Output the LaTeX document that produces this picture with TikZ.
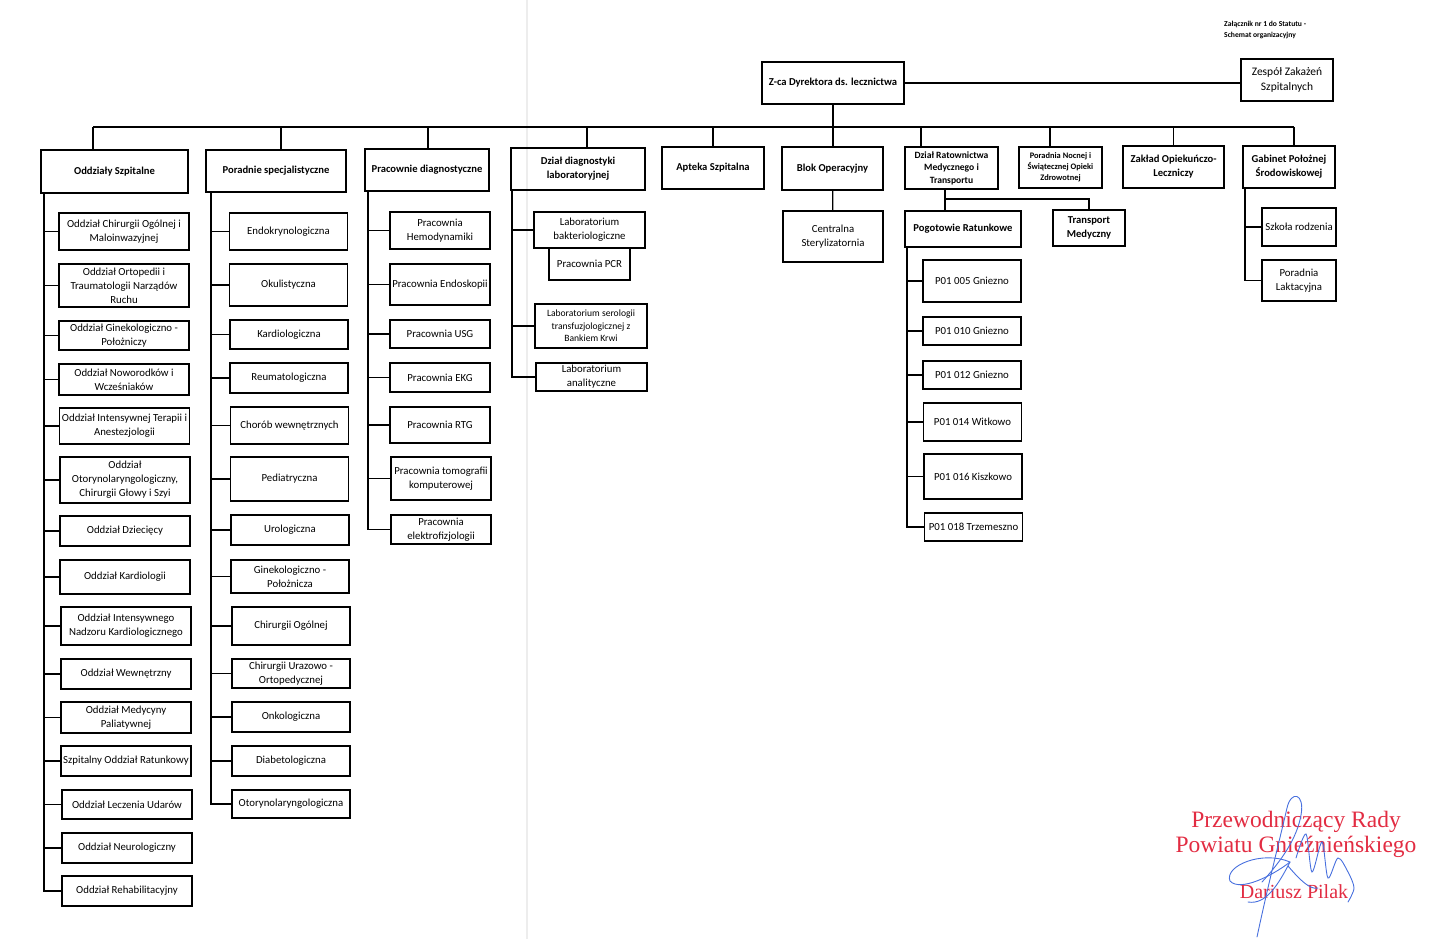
\documentclass[tikz,border=0pt]{standalone}
\usepackage{fontspec}
\setmainfont{Carlito}
\newfontfamily\sigfont{Liberation Serif}
\usepackage{tikz}
\usetikzlibrary{positioning, calc}
\definecolor{sigred}{RGB}{226,44,66}
\definecolor{sigblue}{RGB}{72,112,222}
\tikzset{
  unitbox/.style={
    rectangle, draw=black, line width=1.4pt,
    align=center, inner sep=1pt, outer sep=0pt,
    font=\fontsize{10.8}{14}\selectfont
  },
  headbox/.style={
    unitbox, font=\fontsize{10.6}{14}\selectfont\bfseries
  },
  oddbox/.style={unitbox, minimum width=130},
  porbox/.style={unitbox, minimum width=118},
  prabox/.style={unitbox, minimum width=100},
  labbox/.style={unitbox, minimum width=111},
  zrmbox/.style={unitbox, minimum width=98},
  conn/.style={draw=black, line width=1.3pt},
  sigline/.style={draw=sigblue, line width=0.9pt, line cap=round},
  sigtext/.style={text=sigred, font=\sigfont\fontsize{23.5}{26}\selectfont}
}

\begin{document}
\begin{tikzpicture}[x=1pt, y=-1pt]
\useasboundingbox (0,0) rectangle (1443,939);
\draw[black!7, line width=2pt] (527,0) -- (527,939);

% ── Header ──────────────────────────────────────────────────
\node[anchor=west, align=left, inner sep=0pt,
      font=\fontsize{7.6}{11}\selectfont\bfseries] (att) at (1224,30) {%
  Załącznik nr 1 do Statutu -\\Schemat organizacyjny};

\node[headbox, minimum width=142, minimum height=42] (zca) at (833,83)
  {Z-ca Dyrektora ds. lecznictwa};
\node[unitbox, minimum width=92, minimum height=42,
      font=\fontsize{11.5}{15}\selectfont] (zesp) at (1287,80)
  {Zespół Zakażeń\\Szpitalnych};
\draw[conn] (zca.east) -- (zca.east -| zesp.west);

% ── Top row ─────────────────────────────────────────────────
\node[headbox, minimum width=147, minimum height=43] (ods)  at (114.5,171.5) {Oddziały Szpitalne};
\node[headbox, minimum width=140, minimum height=42] (por)  at (276,171)     {Poradnie specjalistyczne};
\node[headbox, minimum width=124, minimum height=42] (prd)  at (427,170)     {Pracownie diagnostyczne};
\node[headbox, minimum width=134, minimum height=42] (dzl)  at (578,169)     {Dział diagnostyki\\laboratoryjnej};
\node[headbox, minimum width=102, minimum height=42] (apt)  at (713,168)     {Apteka Szpitalna};
\node[headbox, minimum width=101, minimum height=43] (blok) at (832.5,168.5) {Blok Operacyjny};
\node[headbox, minimum width=93, minimum height=42,
      font=\fontsize{9.6}{12.5}\selectfont\bfseries] (rat) at (951.5,168)
  {Dział Ratownictwa\\Medycznego i\\Transportu};
\node[headbox, minimum width=83, minimum height=41,
      font=\fontsize{8.4}{11}\selectfont\bfseries] (noc) at (1060.5,167.5)
  {Poradnia Nocnej i\\Świątecznej Opieki\\Zdrowotnej};
\node[headbox, minimum width=101, minimum height=42] (zak)  at (1173.5,167) {Zakład Opiekuńczo-\\Leczniczy};
\node[headbox, minimum width=92, minimum height=42]  (gab)  at (1289,167)   {Gabinet Położnej\\Środowiskowej};

% ── Bus ─────────────────────────────────────────────────────
\coordinate (busL) at (93,127);
\coordinate (busR) at (1294,127);
\coordinate (d2) at (281,127);
\coordinate (d3) at (428,127);
\coordinate (d4) at (587,127);
\coordinate (d7) at (921,127);
\coordinate (d8) at (1050,127);
\draw[conn] (busL) -- (busR);
\draw[conn] (zca.south) -- (zca.south |- blok.north);
\draw[conn] (busL) -- (busL |- ods.north);
\draw[conn] (d2) -- (d2 |- por.north);
\draw[conn] (d3) -- (d3 |- prd.north);
\draw[conn] (d4) -- (d4 |- dzl.north);
\draw[conn] (busL -| apt.north) -- (apt.north);
\draw[conn] (d7) -- (d7 |- rat.north);
\draw[conn] (d8) -- (d8 |- noc.north);
\draw[conn] (busL -| zak.north) -- (zak.north);
\draw[conn] (busR) -- (busR |- gab.north);

% ── Oddziały Szpitalne ──────────────────────────────────────
\node[oddbox, minimum height=37] (o1)  at (124,231.5)   {Oddział Chirurgii Ogólnej i\\Maloinwazyjnej};
\node[oddbox, minimum height=43] (o2)  at (124,285.5)   {Oddział Ortopedii i\\Traumatologii Narządów\\Ruchu};
\node[oddbox, minimum height=29] (o3)  at (124,335.5)   {Oddział Ginekologiczno -\\Położniczy};
\node[oddbox, minimum height=31] (o4)  at (124,379.5)   {Oddział Noworodków i\\Wcześniaków};
\node[oddbox, minimum height=36] (o5)  at (124.5,426)   {Oddział Intensywnej Terapii i\\Anestezjologii};
\node[oddbox, minimum height=46] (o6)  at (125,480)     {Oddział\\Otorynolaryngologiczny,\\Chirurgii Głowy i Szyi};
\node[oddbox, minimum height=30] (o7)  at (125,531)     {Oddział Dziecięcy};
\node[oddbox, minimum height=34] (o8)  at (125,577)     {Oddział Kardiologii};
\node[oddbox, minimum height=38] (o9)  at (126,626)     {Oddział Intensywnego\\Nadzoru Kardiologicznego};
\node[oddbox, minimum height=30] (o10) at (126,674)     {Oddział Wewnętrzny};
\node[oddbox, minimum height=31] (o11) at (126,717.5)   {Oddział Medycyny\\Paliatywnej};
\node[oddbox, minimum height=30] (o12) at (126,761)     {Szpitalny Oddział Ratunkowy};
\node[oddbox, minimum height=29] (o13) at (127,804.5)   {Oddział Leczenia Udarów};
\node[oddbox, minimum height=30] (o14) at (127,848)     {Oddział Neurologiczny};
\node[oddbox, minimum height=30] (o15) at (127,891)     {Oddział Rehabilitacyjny};

\coordinate (odsT) at ([xshift=3]ods.south west);
\draw[conn] (odsT) |- (o1);
\draw[conn] (odsT) |- (o2);
\draw[conn] (odsT) |- (o3);
\draw[conn] (odsT) |- (o4);
\draw[conn] (odsT) |- (o5);
\draw[conn] (odsT) |- (o6);
\draw[conn] (odsT) |- (o7);
\draw[conn] (odsT) |- (o8);
\draw[conn] (odsT) |- (o9);
\draw[conn] (odsT) |- (o10);
\draw[conn] (odsT) |- (o11);
\draw[conn] (odsT) |- (o12);
\draw[conn] (odsT) |- (o13);
\draw[conn] (odsT) |- (o14);
\draw[conn] (odsT) |- (o15);

% ── Poradnie specjalistyczne ────────────────────────────────
\node[porbox, minimum height=37] (p1)  at (288.5,231.5) {Endokrynologiczna};
\node[porbox, minimum height=42] (p2)  at (288.5,285)   {Okulistyczna};
\node[porbox, minimum height=29] (p3)  at (289,334.5)   {Kardiologiczna};
\node[porbox, minimum height=30] (p4)  at (289,378)     {Reumatologiczna};
\node[porbox, minimum height=37] (p5)  at (289.5,425.5) {Chorób wewnętrznych};
\node[porbox, minimum height=44] (p6)  at (289.5,479)   {Pediatryczna};
\node[porbox, minimum height=30] (p7)  at (290,530)     {Urologiczna};
\node[porbox, minimum height=33] (p8)  at (290,576.5)   {Ginekologiczno -\\Położnicza};
\node[porbox, minimum height=38] (p9)  at (291,626)     {Chirurgii Ogólnej};
\node[porbox, minimum height=29] (p10) at (291,673.5)   {Chirurgii Urazowo -\\Ortopedycznej};
\node[porbox, minimum height=30] (p11) at (291,717)     {Onkologiczna};
\node[porbox, minimum height=30] (p12) at (291,761)     {Diabetologiczna};
\node[porbox, minimum height=28] (p13) at (291,804)     {Otorynolaryngologiczna};

\coordinate (porT) at ([xshift=5]por.south west);
\draw[conn] (porT) |- (p1);
\draw[conn] (porT) |- (p2);
\draw[conn] (porT) |- (p3);
\draw[conn] (porT) |- (p4);
\draw[conn] (porT) |- (p5);
\draw[conn] (porT) |- (p6);
\draw[conn] (porT) |- (p7);
\draw[conn] (porT) |- (p8);
\draw[conn] (porT) |- (p9);
\draw[conn] (porT) |- (p10);
\draw[conn] (porT) |- (p11);
\draw[conn] (porT) |- (p12);
\draw[conn] (porT) |- (p13);

% ── Pracownie diagnostyczne ─────────────────────────────────
\node[prabox, minimum height=37] (r1) at (440,230.5) {Pracownia\\Hemodynamiki};
\node[prabox, minimum height=41] (r2) at (440,284.5) {Pracownia Endoskopii};
\node[prabox, minimum height=28] (r3) at (440,334)   {Pracownia USG};
\node[prabox, minimum height=29] (r4) at (440,377.5) {Pracownia EKG};
\node[prabox, minimum height=36] (r5) at (440,425)   {Pracownia RTG};
\node[prabox, minimum height=43] (r6) at (441,478.5) {Pracownia tomografii\\komputerowej};
\node[prabox, minimum height=29] (r7) at (441,529.5) {Pracownia\\elektrofizjologii};

\coordinate (prdT) at ([xshift=3]prd.south west);
\draw[conn] (prdT) |- (r1);
\draw[conn] (prdT) |- (r2);
\draw[conn] (prdT) |- (r3);
\draw[conn] (prdT) |- (r4);
\draw[conn] (prdT) |- (r5);
\draw[conn] (prdT) |- (r6);
\draw[conn] (prdT) |- (r7);

% ── Dział diagnostyki laboratoryjnej ────────────────────────
\node[labbox, minimum height=36] (bak) at (589.5,230) {Laboratorium\\bakteriologiczne};
\node[unitbox, minimum width=81, minimum height=32, below=0pt of bak] (pcr) {Pracownia PCR};
\node[labbox, minimum width=112, minimum height=44,
      font=\fontsize{9.6}{12.5}\selectfont] (sero) at (591,326)
  {Laboratorium serologii\\transfuzjologicznej z\\Bankiem Krwi};
\node[labbox, minimum height=28] (anal) at (591.5,377) {Laboratorium\\analityczne};

\coordinate (dzlT) at ([xshift=1]dzl.south west);
\draw[conn] (dzlT) |- (bak);
\draw[conn] (dzlT) |- (sero);
\draw[conn] (dzlT) |- (anal);

% ── Blok Operacyjny ─────────────────────────────────────────
\node[unitbox, minimum width=100, minimum height=51] (ster) at (833,236.5)
  {Centralna\\Sterylizatornia};
\draw[conn] (blok) -- (ster);

% ── Dział Ratownictwa ───────────────────────────────────────
\node[headbox, minimum width=116, minimum height=36] (pog) at (963,229) {Pogotowie Ratunkowe};
\node[headbox, minimum width=72, minimum height=36] (trans) at (1089,228) {Transport\\Medyczny};
\coordinate (ratB) at (945,199);
\draw[conn] (ratB |- rat.south) -- (ratB) -| (trans.north);
\draw[conn] (ratB) -- (ratB |- pog.north);

\node[zrmbox, minimum height=42] (z1) at (972,281)     {P01 005 Gniezno};
\node[zrmbox, minimum height=28] (z2) at (972,331)     {P01 010 Gniezno};
\node[zrmbox, minimum height=28] (z3) at (972,375)     {P01 012 Gniezno};
\node[zrmbox, minimum height=38] (z4) at (972.5,422)   {P01 014 Witkowo};
\node[zrmbox, minimum height=45] (z5) at (973,476.5)   {P01 016 Kiszkowo};
\node[zrmbox, minimum height=28] (z6) at (973.5,527)   {P01 018 Trzemeszno};

\coordinate (pogT) at ([xshift=2]pog.south west);
\draw[conn] (pogT) |- (z1);
\draw[conn] (pogT) |- (z2);
\draw[conn] (pogT) |- (z3);
\draw[conn] (pogT) |- (z4);
\draw[conn] (pogT) |- (z5);
\draw[conn] (pogT) |- (z6);

% ── Gabinet Położnej ────────────────────────────────────────
\node[unitbox, minimum width=74, minimum height=38] (szk) at (1299,227)   {Szkoła rodzenia};
\node[unitbox, minimum width=74, minimum height=41] (lak) at (1299,280.5) {Poradnia\\Laktacyjna};

\coordinate (gabT) at ([xshift=2]gab.south west);
\draw[conn] (gabT) |- (szk);
\draw[conn] (gabT) |- (lak);

% ── Signature ───────────────────────────────────────────────
\node[sigtext] (sig1) at (1296,822) {Przewodniczący Rady};
\node[sigtext] (sig2) at (1296,847) {Powiatu Gnieźnieńskiego};
\node[sigtext, font=\sigfont\fontsize{20}{24}\selectfont] (sig3) at (1294,892) {Dariusz Pilak};

\draw[sigline] (1257,937) .. controls (1268,885) and (1282,830) .. (1287,808)
  .. controls (1291,790) and (1305,793) .. (1301,815)
  .. controls (1297,838) and (1282,860) .. (1262,882);
\draw[sigline] (1290,862) .. controls (1262,850) and (1224,866) .. (1230,881)
  .. controls (1240,892) and (1272,876) .. (1290,862);
\draw[sigline] (1290,862) .. controls (1278,885) and (1266,905) .. (1248,902);
\draw[sigline] (1288,866) .. controls (1300,880) and (1310,890) .. (1318,888);
\draw[sigline] plot[smooth] coordinates {(1296,858) (1306,834) (1312,872)
  (1322,842) (1328,878) (1338,858) (1348,872) (1354,888) (1348,902)};
\end{tikzpicture}
\end{document}
